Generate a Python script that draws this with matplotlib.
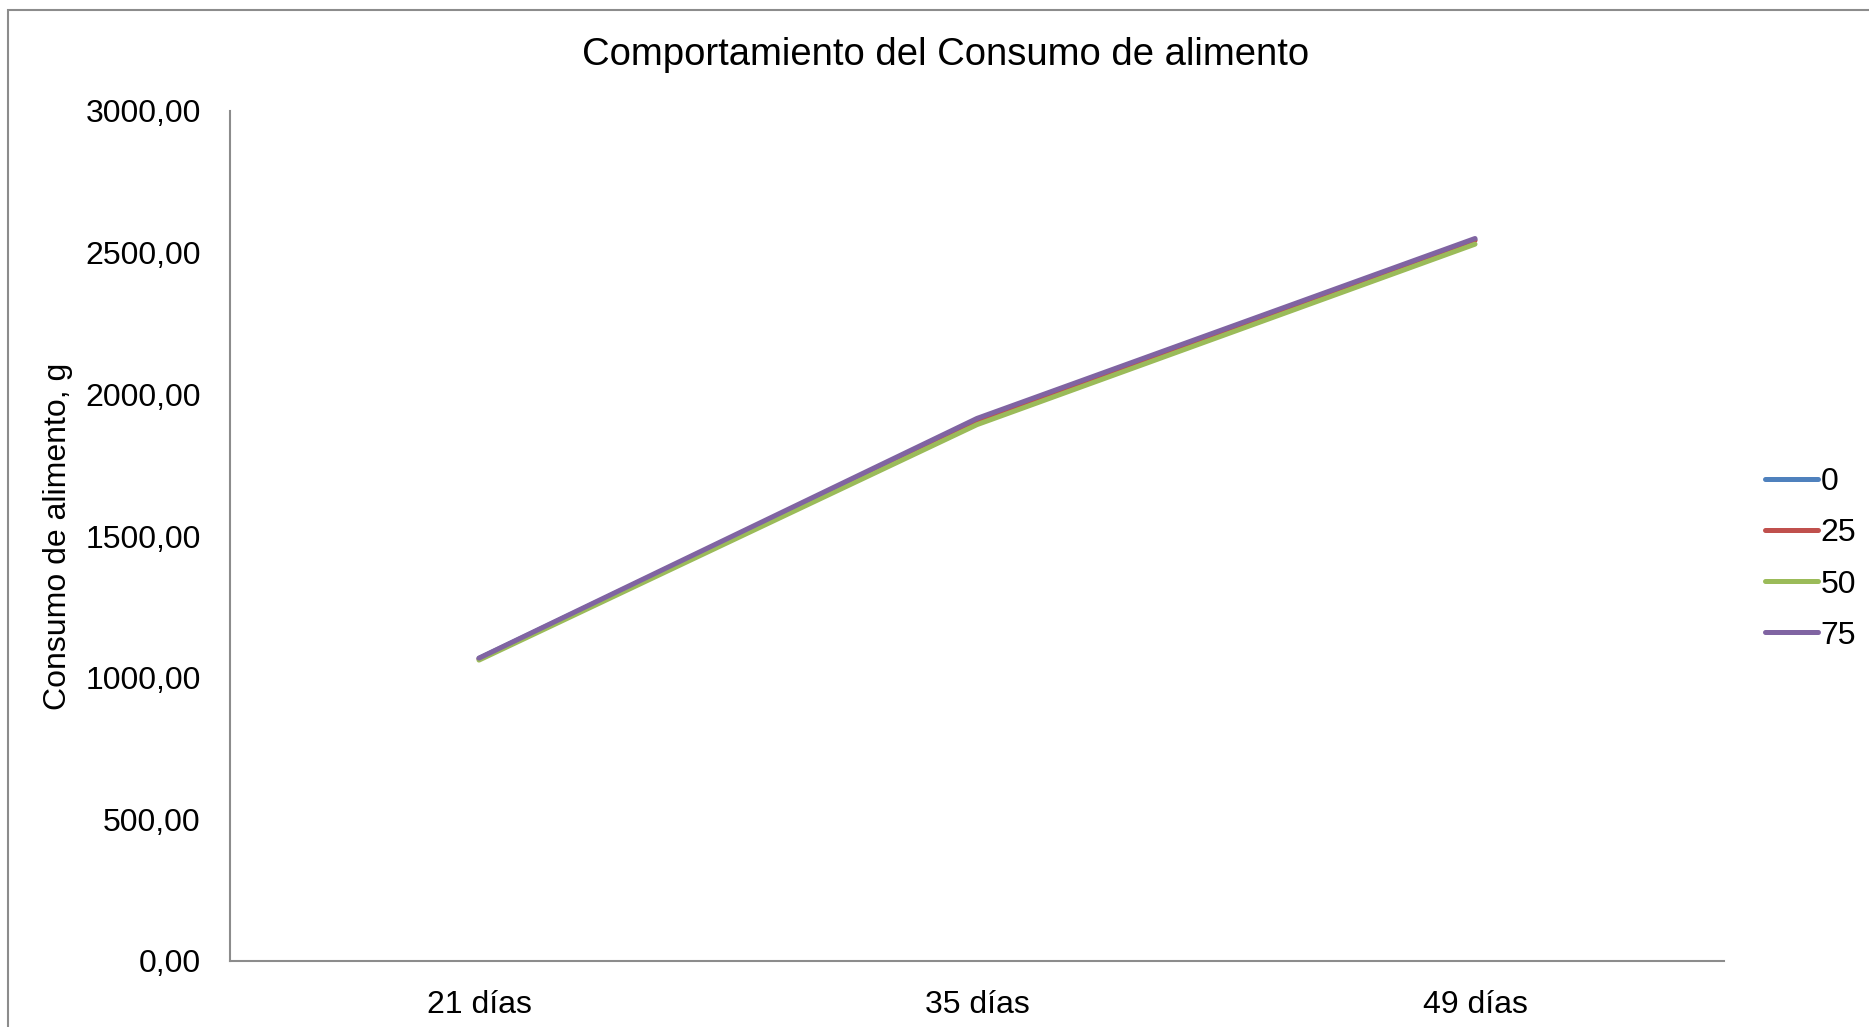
import numpy as np
import matplotlib.pyplot as plt
from matplotlib.patches import Rectangle

plt.rcParams['font.family'] = ['Liberation Sans', 'DejaVu Sans']

categorias = ['21 días', '35 días', '49 días']
niveles = ['0', '25', '50', '75']
consumo_0 = [1068, 1908, 2546]
consumo_25 = [1066, 1904, 2543]
consumo_50 = [1062, 1893, 2530]
consumo_75 = [1069, 1915, 2550]
colores = ['#4F81BD', '#C0504D', '#9BBB59', '#8064A2']

W, H = 1869, 1027
fig = plt.figure(figsize=(W / 100, H / 100), dpi=100)
ax = fig.add_axes([230 / W, 1 - 961 / H, (1724 - 230) / W, (961 - 111) / H])

x = np.arange(len(categorias))
for serie, nombre, c in zip([consumo_0, consumo_25, consumo_50, consumo_75], niveles, colores):
    ax.plot(x, serie, color=c, lw=3.6, solid_capstyle='round', label=nombre)

ax.set_xlim(-0.5, 2.5)
ax.set_ylim(0, 3000)
ax.set_yticks(np.arange(0, 3001, 500))
ax.set_yticklabels([f'{v:.2f}'.replace('.', ',') for v in np.arange(0, 3001, 500)])
ax.set_xticks(x)
ax.set_xticklabels(categorias)
ax.tick_params(length=0, labelsize=23)
ax.tick_params(axis='x', pad=21)
ax.tick_params(axis='y', pad=21)
for s in ['top', 'right']:
    ax.spines[s].set_visible(False)
for s in ['left', 'bottom']:
    ax.spines[s].set_color('#8c8c8c')
    ax.spines[s].set_linewidth(1.5)

ax.set_ylabel('Consumo de alimento, g', fontsize=23, labelpad=9)
fig.text(946 / W, 1 - 55 / H, 'Comportamiento del Consumo de alimento',
         ha='center', va='center', fontsize=27.5)

ax.legend(loc='center left', bbox_to_anchor=(1765 / W, 1 - 559 / H), bbox_transform=fig.transFigure,
          frameon=False, fontsize=23, handlelength=1.65, handletextpad=0.08,
          labelspacing=0.66, borderpad=0, borderaxespad=0)

fig.patches.append(Rectangle((8 / W, -0.1), 1.2, 1 - 10 / H + 0.1, transform=fig.transFigure,
                             fill=False, edgecolor='#8c8c8c', lw=1.5))

fig.savefig('out.png', dpi=100)
